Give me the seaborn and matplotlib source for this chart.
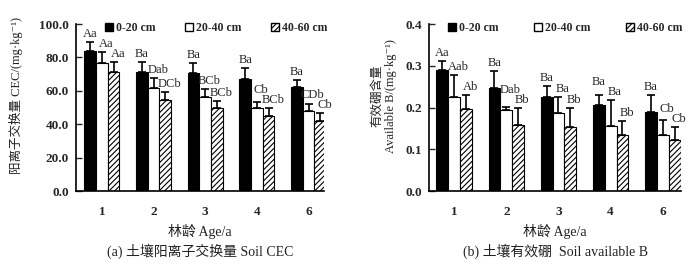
import numpy as np
import pandas as pd
import seaborn as sns
import matplotlib.pyplot as plt
from matplotlib.patches import Patch

# data
ages = ["1", "2", "3", "4", "6"]
depths = ["0-20 cm", "20-40 cm", "40-60 cm"]

cec_0_20 = [84, 71, 70.5, 67, 62.5]
cec_20_40 = [76.5, 61.5, 56, 49.5, 48]
cec_40_60 = [71, 54.5, 50, 45, 42]
cec_0_20_err = [5, 6, 6, 6.5, 4]
cec_20_40_err = [6.5, 6, 5, 3.5, 4]
cec_40_60_err = [6, 5, 4, 5, 5]
cec_0_20_lab = ["Aa", "Ba", "Ba", "Ba", "Ba"]
cec_20_40_lab = ["Aa", "Dab", "BCb", "Cb", "CDb"]
cec_40_60_lab = ["Aa", "DCb", "BCb", "BCb", "Cb"]

b_0_20 = [0.29, 0.247, 0.226, 0.206, 0.189]
b_20_40 = [0.226, 0.194, 0.187, 0.155, 0.134]
b_40_60 = [0.196, 0.158, 0.153, 0.133, 0.121]
b_0_20_err = [0.022, 0.041, 0.026, 0.025, 0.04]
b_20_40_err = [0.052, 0.007, 0.039, 0.062, 0.035]
b_40_60_err = [0.035, 0.042, 0.046, 0.034, 0.032]
b_0_20_lab = ["Aa", "Ba", "Ba", "Ba", "Ba"]
b_20_40_lab = ["Aab", "Dab", "Ba", "Ba", "Cb"]
b_40_60_lab = ["Ab", "Bb", "Bb", "Bb", "Cb"]

sns.set_style("ticks")
plt.rcParams['font.family'] = ['Liberation Serif', 'Noto Sans CJK SC', 'DejaVu Sans']
plt.rcParams['hatch.linewidth'] = 0.8

HATCH = "//////"


def draw_panel(ax, means, errs, letters, ymax, ylabel, caption, leg_x, colsp, xlim):
    df = pd.DataFrame({
        "age": ages * 3,
        "depth": np.repeat(depths, len(ages)),
        "value": np.concatenate(means),
    })
    sns.barplot(data=df, x="age", y="value", hue="depth", order=ages,
                hue_order=depths, palette=["black", "white", "white"],
                saturation=1, width=0.68, edgecolor="black", linewidth=0.8,
                errorbar=None, legend=False, ax=ax)
    for bar in ax.containers[2]:
        bar.set_hatch(HATCH)
    ax.set_ylim(0, ymax)

    xs_all = []
    for cont, m, e in zip(ax.containers, means, errs):
        xs = [p.get_x() + p.get_width() / 2 for p in cont]
        xs_all.append(xs)
        ax.errorbar(xs, m, yerr=[np.zeros(len(e)), e], fmt="none", ecolor="black",
                    elinewidth=1.2, capsize=3, capthick=1.2)

    # significance letters, stacked so neighbours in a group don't collide
    px = ymax / 167.0
    for i in range(len(ages)):
        tops = [means[k][i] + errs[k][i] for k in range(3)]
        ys = [0, 0, 0]
        ys[2] = tops[2] + 2 * px
        ys[1] = max(tops[1] + 2 * px, ys[2] + 10 * px)
        ys[0] = max(tops[0] + 2 * px, ys[1] + 10 * px)
        for k, dx in zip(range(3), [0, 3, 3]):
            ax.annotate(letters[k][i], (xs_all[k][i], ys[k]), xytext=(dx, 0),
                        textcoords="offset points", ha="center", va="bottom",
                        fontsize=9)

    ax.set_yticks(np.linspace(0, ymax, 6 if ymax > 1 else 5))
    ax.set_yticklabels([f"{v:.1f}" for v in ax.get_yticks()], fontweight="bold", fontsize=9.5)
    ax.set_xticklabels(ages, fontweight="bold", fontsize=9.5)
    ax.set_xlim(*xlim)
    ax.tick_params(axis="y", direction="in", length=4, width=1, pad=5)
    ax.tick_params(axis="x", length=0, pad=11)
    sns.despine(ax=ax)
    for s in ["left", "bottom"]:
        ax.spines[s].set_linewidth(1.2)
        ax.spines[s].set_color("black")

    ax.set_ylabel(ylabel, fontsize=9, color="#222222")
    ax.set_xlabel("林龄 Age/a", fontsize=10, color="#222222")
    ax.xaxis.set_label_coords(0.5, -0.2)
    ax.text(0.5, -0.36, caption, transform=ax.transAxes, ha="center", va="center",
            fontsize=10, color="#222222")

    handles = [Patch(fc="black", ec="black"), Patch(fc="white", ec="black"),
               Patch(fc="white", ec="black", hatch=HATCH)]
    ax.legend(handles, depths, ncol=3, loc="upper left", bbox_to_anchor=(leg_x, 1.01),
              frameon=False, handlelength=0.7, handleheight=0.7, handletextpad=0.25,
              columnspacing=colsp, borderpad=0, borderaxespad=0,
              prop={"weight": "bold", "size": 8.5})


fig = plt.figure(figsize=(7, 2.68), dpi=100)
ax1 = fig.add_axes([0.1086, 0.2873, 0.3543, 0.6231])
ax2 = fig.add_axes([0.613, 0.2873, 0.36, 0.6231])

draw_panel(ax1, [cec_0_20, cec_20_40, cec_40_60],
           [cec_0_20_err, cec_20_40_err, cec_40_60_err],
           [cec_0_20_lab, cec_20_40_lab, cec_40_60_lab],
           100, "阳离子交换量 CEC/(mg·kg⁻¹)", "(a) 土壤阳离子交换量 Soil CEC",
           0.115, 2.5, (-0.5, 4.3))
ax1.yaxis.set_label_coords(-0.214, 0.57)

draw_panel(ax2, [b_0_20, b_20_40, b_40_60],
           [b_0_20_err, b_20_40_err, b_40_60_err],
           [b_0_20_lab, b_20_40_lab, b_40_60_lab],
           0.4, "有效硼含量\nAvailable B/(mg·kg⁻¹)", "(b) 土壤有效硼  Soil available B",
           0.075, 3.0, (-0.48, 4.35))
ax2.yaxis.set_label_coords(-0.127, 0.57)

fig.savefig("out.png", dpi=100)
